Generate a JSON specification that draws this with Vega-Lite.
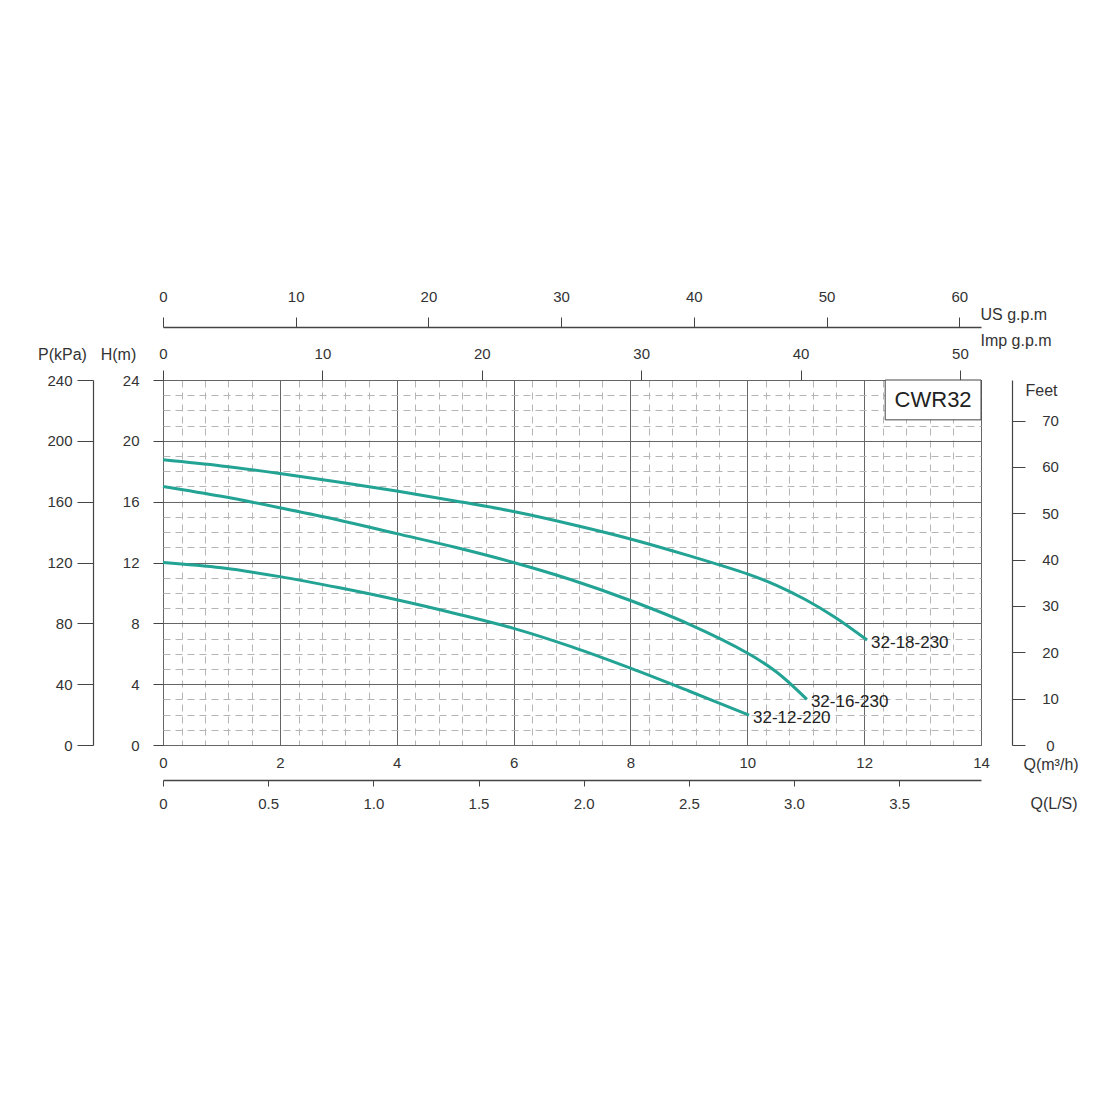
{
  "$schema": "https://vega.github.io/schema/vega-lite/v6.json",
  "autosize": "none",
  "width": 818,
  "height": 365,
  "padding": {"left": 163, "top": 380, "right": 119, "bottom": 355},
  "background": "white",
  "config": {
    "view": {"stroke": "#444", "strokeWidth": 1},
    "font": "Liberation Sans",
    "axis": {
      "labelFont": "Liberation Sans",
      "labelFontSize": 15,
      "labelColor": "#333",
      "titleFont": "Liberation Sans",
      "titleFontSize": 16,
      "titleFontWeight": "normal",
      "titleColor": "#333",
      "titleAngle": 0,
      "tickColor": "#444",
      "domainColor": "#444",
      "labelFlush": false,
      "labelOverlap": false
    }
  },
  "datasets": {
    "curves": [
      {"model": "32-18-230", "Q": 0, "H": 18.75},
      {"model": "32-18-230", "Q": 1, "H": 18.35},
      {"model": "32-18-230", "Q": 2, "H": 17.85},
      {"model": "32-18-230", "Q": 3, "H": 17.3},
      {"model": "32-18-230", "Q": 4, "H": 16.7},
      {"model": "32-18-230", "Q": 5, "H": 16.05},
      {"model": "32-18-230", "Q": 6, "H": 15.35},
      {"model": "32-18-230", "Q": 7, "H": 14.5},
      {"model": "32-18-230", "Q": 8, "H": 13.55},
      {"model": "32-18-230", "Q": 9, "H": 12.45},
      {"model": "32-18-230", "Q": 10, "H": 11.25},
      {"model": "32-18-230", "Q": 10.5, "H": 10.5},
      {"model": "32-18-230", "Q": 11, "H": 9.55},
      {"model": "32-18-230", "Q": 11.5, "H": 8.4},
      {"model": "32-18-230", "Q": 12.05, "H": 6.9},
      {"model": "32-16-230", "Q": 0, "H": 17.0},
      {"model": "32-16-230", "Q": 1, "H": 16.35},
      {"model": "32-16-230", "Q": 2, "H": 15.6},
      {"model": "32-16-230", "Q": 3, "H": 14.8},
      {"model": "32-16-230", "Q": 4, "H": 13.9},
      {"model": "32-16-230", "Q": 5, "H": 13.0},
      {"model": "32-16-230", "Q": 6, "H": 12.0},
      {"model": "32-16-230", "Q": 7, "H": 10.85},
      {"model": "32-16-230", "Q": 8, "H": 9.5},
      {"model": "32-16-230", "Q": 9, "H": 7.95},
      {"model": "32-16-230", "Q": 10, "H": 6.05},
      {"model": "32-16-230", "Q": 10.5, "H": 4.8},
      {"model": "32-16-230", "Q": 11.02, "H": 3.0},
      {"model": "32-12-220", "Q": 0, "H": 12.0},
      {"model": "32-12-220", "Q": 1, "H": 11.65},
      {"model": "32-12-220", "Q": 2, "H": 11.07},
      {"model": "32-12-220", "Q": 3, "H": 10.35},
      {"model": "32-12-220", "Q": 4, "H": 9.55},
      {"model": "32-12-220", "Q": 5, "H": 8.65},
      {"model": "32-12-220", "Q": 6, "H": 7.67},
      {"model": "32-12-220", "Q": 7, "H": 6.45},
      {"model": "32-12-220", "Q": 8, "H": 5.05},
      {"model": "32-12-220", "Q": 9, "H": 3.55},
      {"model": "32-12-220", "Q": 10.03, "H": 1.97}
    ],
    "badge": [
      {"name": "CWR32", "x1": 12.36, "x2": 14, "y1": 21.38, "y2": 24, "xc": 13.18, "yc": 22.69}
    ],
    "anchor": [{"v": 0}]
  },
  "layer": [
    {
      "data": {"name": "anchor"},
      "mark": {"type": "point", "opacity": 0},
      "encoding": {
        "x": {"field": "v", "type": "quantitative", "scale": {"domain": [0, 14], "nice": false},
          "axis": {"orient": "bottom", "grid": true, "gridColor": "#b5b5b5", "gridDash": [7, 5], "gridWidth": 1,
            "values": [0.32, 0.72, 1.12, 1.52, 2.32, 2.72, 3.12, 3.52, 4.32, 4.72, 5.12, 5.52, 6.32, 6.72, 7.12, 7.52, 8.32, 8.72, 9.12, 9.52, 10.32, 10.72, 11.12, 11.52, 12.32, 12.72, 13.12, 13.52],
            "labels": false, "ticks": false, "domain": false, "title": null, "zindex": 0}},
        "y": {"field": "v", "type": "quantitative", "scale": {"domain": [0, 24], "nice": false},
          "axis": {"orient": "left", "grid": true, "gridColor": "#b5b5b5", "gridDash": [7, 5], "gridWidth": 1,
            "values": [1, 2, 3, 5, 6, 7, 9, 10, 11, 13, 14, 15, 17, 18, 19, 21, 22, 23],
            "labels": false, "ticks": false, "domain": false, "title": null, "zindex": 0}}
      }
    },
    {
      "data": {"name": "curves"},
      "mark": {"type": "line", "interpolate": "catmull-rom", "strokeWidth": 3, "color": "#22a394"},
      "encoding": {
        "detail": {"field": "model", "type": "nominal"},
        "x": {"field": "Q", "type": "quantitative", "scale": {"domain": [0, 14], "nice": false},
          "axis": {"orient": "bottom", "values": [0, 2, 4, 6, 8, 10, 12, 14], "grid": true, "gridColor": "#666", "gridWidth": 1,
            "tickSize": 0, "domain": false, "labelPadding": 10, "zindex": 0,
            "title": "Q(m³/h)", "titleX": 860, "titleY": 19, "titleAlign": "left", "titleBaseline": "middle"}},
        "y": {"field": "H", "type": "quantitative", "scale": {"domain": [0, 24], "nice": false},
          "axis": {"orient": "left", "values": [0, 4, 8, 12, 16, 20, 24], "grid": true, "gridColor": "#666", "gridWidth": 1,
            "tickSize": 10, "domain": false, "labelPadding": 14, "zindex": 0,
            "title": "H(m)", "titleX": -45, "titleY": -26, "titleAlign": "center", "titleBaseline": "middle"}}
      }
    },
    {
      "data": {"name": "curves"},
      "transform": [
        {"joinaggregate": [{"op": "max", "field": "Q", "as": "Qmax"}], "groupby": ["model"]},
        {"filter": "datum.Q == datum.Qmax"}
      ],
      "mark": {"type": "text", "align": "left", "baseline": "middle", "dx": 4, "dy": 3, "fontSize": 17, "color": "#222", "font": "Liberation Sans"},
      "encoding": {
        "text": {"field": "model", "type": "nominal"},
        "x": {"field": "Q", "type": "quantitative", "scale": {"domain": [0, 14], "nice": false}, "axis": null},
        "y": {"field": "H", "type": "quantitative", "scale": {"domain": [0, 24], "nice": false}, "axis": null}
      }
    },
    {
      "data": {"name": "badge"},
      "mark": {"type": "rect", "fill": "white", "stroke": "#444", "strokeWidth": 1},
      "encoding": {
        "x": {"field": "x1", "type": "quantitative", "scale": {"domain": [0, 14], "nice": false}, "axis": null},
        "x2": {"field": "x2"},
        "y": {"field": "y1", "type": "quantitative", "scale": {"domain": [0, 24], "nice": false}, "axis": null},
        "y2": {"field": "y2"}
      }
    },
    {
      "data": {"name": "badge"},
      "mark": {"type": "text", "align": "center", "baseline": "middle", "fontSize": 22, "color": "#222", "font": "Liberation Sans"},
      "encoding": {
        "text": {"field": "name", "type": "nominal"},
        "x": {"field": "xc", "type": "quantitative", "scale": {"domain": [0, 14], "nice": false}, "axis": null},
        "y": {"field": "yc", "type": "quantitative", "scale": {"domain": [0, 24], "nice": false}, "axis": null}
      }
    },
    {
      "data": {"name": "anchor"},
      "mark": {"type": "point", "opacity": 0},
      "encoding": {
        "x": {"field": "v", "type": "quantitative", "scale": {"domain": [0, 61.64], "nice": false},
          "axis": {"orient": "top", "offset": 53, "values": [0, 10, 20, 30, 40, 50, 60], "tickSize": 10, "labelPadding": 13,
            "domain": true, "domainWidth": 1.5, "grid": false,
            "title": "US  g.p.m", "titleX": 817, "titleY": -13, "titleAlign": "left", "titleBaseline": "middle"}}
      }
    },
    {
      "data": {"name": "anchor"},
      "mark": {"type": "point", "opacity": 0},
      "encoding": {
        "x": {"field": "v", "type": "quantitative", "scale": {"domain": [0, 51.32], "nice": false},
          "axis": {"orient": "top", "offset": 0, "values": [0, 10, 20, 30, 40, 50], "tickSize": 10, "labelPadding": 9,
            "domain": false, "grid": false,
            "title": "Imp  g.p.m", "titleX": 817, "titleY": -40, "titleAlign": "left", "titleBaseline": "middle"}}
      }
    },
    {
      "data": {"name": "anchor"},
      "mark": {"type": "point", "opacity": 0},
      "encoding": {
        "x": {"field": "v", "type": "quantitative", "scale": {"domain": [0, 3.8889], "nice": false},
          "axis": {"orient": "bottom", "offset": 35, "values": [0, 0.5, 1, 1.5, 2, 2.5, 3, 3.5], "tickSize": 6, "labelPadding": 10,
            "labelExpr": "datum.value == 0 ? '0' : format(datum.value, '.1f')",
            "domain": true, "domainWidth": 1.5, "grid": false,
            "title": "Q(L/S)", "titleX": 867, "titleY": 23, "titleAlign": "left", "titleBaseline": "middle"}}
      }
    },
    {
      "data": {"name": "anchor"},
      "mark": {"type": "point", "opacity": 0},
      "encoding": {
        "y": {"field": "v", "type": "quantitative", "scale": {"domain": [0, 240], "nice": false},
          "axis": {"orient": "left", "offset": 70, "values": [0, 40, 80, 120, 160, 200, 240], "tickSize": 16, "labelPadding": 5,
            "domain": true, "domainWidth": 1.2, "grid": false,
            "title": "P(kPa)", "titleX": -31, "titleY": -26, "titleAlign": "center", "titleBaseline": "middle"}}
      }
    },
    {
      "data": {"name": "anchor"},
      "mark": {"type": "point", "opacity": 0},
      "encoding": {
        "y": {"field": "v", "type": "quantitative", "scale": {"domain": [0, 78.74], "nice": false},
          "axis": {"orient": "right", "offset": 31, "values": [0, 10, 20, 30, 40, 50, 60, 70], "tickSize": 13, "labelPadding": 25,
            "labelAlign": "center", "domain": true, "domainWidth": 1.2, "grid": false,
            "title": "Feet", "titleX": 29, "titleY": 10, "titleAlign": "center", "titleBaseline": "middle"}}
      }
    }
  ],
  "resolve": {
    "scale": {"x": "independent", "y": "independent"},
    "axis": {"x": "independent", "y": "independent"}
  }
}
